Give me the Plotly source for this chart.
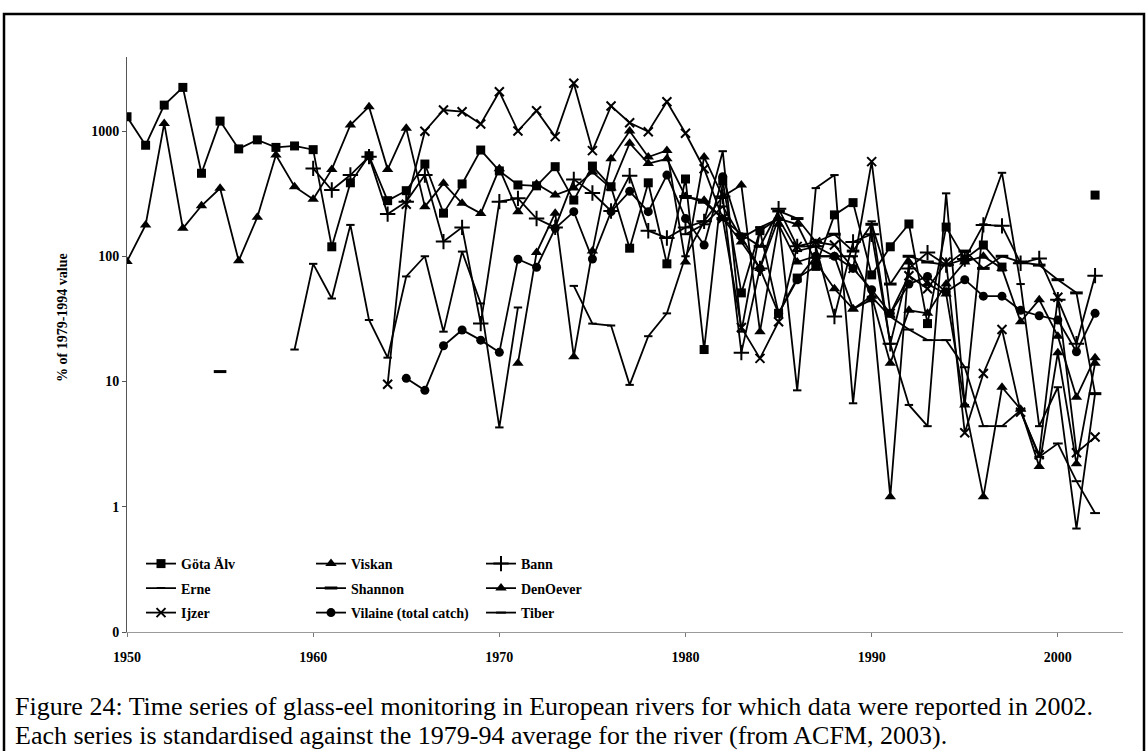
import plotly.graph_objects as go

years = list(range(1950, 2003))

gota_alv = [1300, 770, 1610, 2230, 460, 1200, 720, 850, 740, 760,
            710, 119, 386, 635, 278, 334, 545, 221, 378, 705,
            480, 371, 365, 519, 281, 525, 359, 116, 386, 87,
            414, 18, 400, 51, 160, 35, 67, 83, 214, 268,
            71, 119, 181, 29, 171, 95, 123, 82, None, None,
            None, None, 308]
viskan = [91, 178, 1150, 167, 253, 349, 92, 205, 643, 359,
          285, 494, 1117, 1563, 494, 1050, 249, 382, 265, 220,
          500, 227, 378, 308, 350, 470, 350, 800, 550, 600,
          300, 280, 200, 130, 80, 200, 180, 90, 55, 38,
          48, 14, 37, 35, 60, 90, 100, 80, 30, 45,
          23, 7.5, 15.5]
bann = [None] * 10 + [503, 338, 445, 624, 217, 273, 445, 131, 170, 29,
                      273, 290, 200, 170, 411, 320, 230, 440, 160, 140,
                      170, 190, 300, 17, 80, 240, 120, 120, 33, 130,
                      150, 20, 80, 107, 85, 95, 178, 175, 88, 96,
                      45, 20, 70]
erne = [None] * 9 + [18, 87, 46, 178, 31, 15.5, 69, 100, 25, 109, 42,
                     4.3, 39, None, None, 58, 29, 28, 9.4, 23, 35,
                     100, 190, 690, 25, 160, 200, 8.5, 350, 445, 6.7,
                     190, 20, 6.5, 4.4, 318, 6.5, 180, 464, 60, 4.4,
                     9, 0.67, 8]
shannon = [None] * 5 + [12] + [None] * 24 + [300, 270, 200, 150, 120, 230, 200, 130, 150, 110,
                                            180, 60, 100, 90, 85, 110, 80, 100, 90, 85,
                                            65, 51, 8]
den_oever = [None] * 21 + [14, 107, 221, 15.8, 110, 600, 1000, 620, 700,
                           90, 620, 300, 370, 25, 180, 90, 100, 100, 38,
                           45, 1.2, 90, 60, 50, 6.5, 1.2, 9, 6, 2.1,
                           17, 2.2, 14]
ijzer = [None] * 14 + [9.5, 260, 997, 1472, 1426, 1137,
                       2060, 1000, 1453, 902, 2404, 697, 1584, 1165, 988, 1714,
                       960, 500, 200, 27, 15.3, 30, 120, 130, 123, 80,
                       570, 35, 70, 55, 90, 3.9, 11.6, 26, 5.7, 2.6,
                       47, 2.7, 3.6]
vilaine = [None] * 15 + [10.6, 8.5, 19.3, 25.8, 21.4,
                         17.1, 94.6, 81.7, 167, 227, 95, 227, 330, 227, 445,
                         200, 123, 431, 143, 80, 35, 65, 100, 100, 80,
                         54, 35, 60, 69, 52, 65, 48, 48, 37, 33.5,
                         31, 17.3, 35]
tiber = [None] * 30 + [150, 180, 250, 140, 170, 200, 110, 120, 100, 100,
                       47.5, 33, 26, 21.4, 21.4, 13, 4.4, 4.4, 5.9, 2.5,
                       3.2, 1.6, 0.89]

series = [
    ("Göta Älv", gota_alv, dict(symbol="square", size=9)),
    ("Viskan", viskan, dict(symbol="triangle-up", size=10)),
    ("Bann", bann, dict(symbol="cross-thin", size=11, line=dict(width=2, color="black"))),
    ("Erne", erne, dict(symbol="line-ew", size=6, line=dict(width=2, color="black"))),
    ("Shannon", shannon, dict(symbol="line-ew", size=9, line=dict(width=3, color="black"))),
    ("DenOever", den_oever, dict(symbol="triangle-up", size=10)),
    ("Ijzer", ijzer, dict(symbol="x-thin", size=9, line=dict(width=2, color="black"))),
    ("Vilaine (total catch)", vilaine, dict(symbol="circle", size=9)),
    ("Tiber", tiber, dict(symbol="line-ew", size=7, line=dict(width=2, color="black"))),
]

# plot area in pixels
L, R, T, B = 127, 25, 57, 119
W, H = 1148, 751
pw, ph = W - L - R, H - T - B


def px_x(x):
    return (x - L) / pw


def px_y(y):
    return (H - B - y) / ph


serif = "Liberation Serif, Times New Roman, serif"

# legend grid: columns (left edge px) and rows (centre px)
legend_cols = [141, 311, 481]
legend_rows = [564, 588.5, 613]

fig = go.Figure()
layout_legends = {}
for i, (name, vals, mk) in enumerate(series):
    col, row = i % 3, i // 3
    key = "legend" if i == 0 else f"legend{i + 1}"
    fig.add_trace(go.Scatter(
        x=years, y=vals, name=name, mode="lines+markers",
        line=dict(color="black", width=1.8),
        marker=dict(color="black", **mk),
        legend=key, connectgaps=False,
    ))
    layout_legends[key] = dict(
        x=px_x(legend_cols[col]), y=px_y(legend_rows[row]),
        xanchor="left", yanchor="middle",
        bgcolor="rgba(0,0,0,0)", borderwidth=0,
        font=dict(family=serif, size=14, color="black", weight="bold"),
    )

fig.update_layout(
    width=W, height=H,
    margin=dict(l=L, r=R, t=T, b=B),
    paper_bgcolor="white", plot_bgcolor="white",
    showlegend=True,
    **layout_legends,
)

fig.update_xaxes(
    range=[1950, 2003.5], tickvals=[1950, 1960, 1970, 1980, 1990, 2000],
    showgrid=False, zeroline=False,
    showline=True, linecolor="#9a9a9a", linewidth=1,
    ticks="outside", ticklen=4, tickcolor="#777",
    tickfont=dict(family=serif, size=14, color="black", weight="bold"),
    ticklabelstandoff=8,
)
fig.update_yaxes(
    type="log", range=[-1, 3.591],
    tickvals=[0.1, 1, 10, 100, 1000], ticktext=["0", "1", "10", "100", "1000"],
    showgrid=False, zeroline=False,
    showline=True, linecolor="#555", linewidth=1,
    ticks="outside", ticklen=4, tickcolor="#555",
    tickfont=dict(family=serif, size=14, color="black", weight="bold"),
)

fig.add_annotation(
    text="% of 1979-1994 value", textangle=-90,
    xref="paper", yref="paper", x=px_x(62), y=px_y(318),
    xanchor="center", yanchor="middle", showarrow=False,
    font=dict(family=serif, size=14, color="black", weight="bold"),
)

caption = [
    "Figure 24: Time series of glass-eel monitoring in European rivers for which data were reported in 2002.",
    "Each series is standardised against the 1979-94 average for the river (from ACFM, 2003).",
]
for line, ypx in zip(caption, [706, 735]):
    fig.add_annotation(
        text=line, xref="paper", yref="paper", x=px_x(13), y=px_y(ypx),
        xanchor="left", yanchor="middle", showarrow=False,
        font=dict(family=serif, size=26, color="black"),
    )

# outer frame round the figure and caption
fig.add_shape(
    type="rect", xref="paper", yref="paper",
    x0=px_x(4), x1=px_x(1144), y0=px_y(780), y1=px_y(14),
    line=dict(color="black", width=2.5), fillcolor="rgba(0,0,0,0)", layer="below",
)

fig.write_html("out.html")
